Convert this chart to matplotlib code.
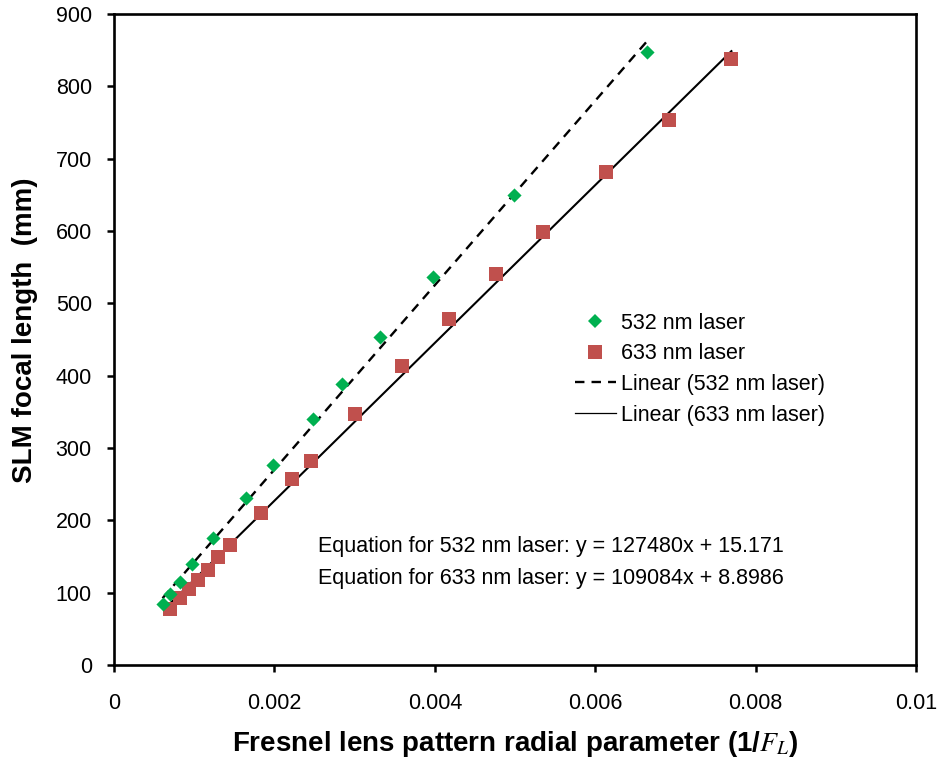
import matplotlib

matplotlib.use("Agg")
import matplotlib.pyplot as plt  # noqa: E402
import numpy as np  # noqa: E402
from matplotlib.lines import Line2D  # noqa: E402

# dados
x_532 = [0.000605, 0.000704, 0.00082, 0.000977, 0.001234, 0.001648, 0.001988,
         0.002484, 0.002841, 0.003313, 0.003981, 0.004981, 0.006642]
y_532 = [84, 98, 115, 139, 175, 231, 276, 340, 389, 454, 536, 650, 847]

x_633 = [0.000696, 0.00082, 0.000936, 0.001048, 0.001172, 0.001296, 0.00144,
         0.00183, 0.002224, 0.002456, 0.003002, 0.00359, 0.004174, 0.004767,
         0.005346, 0.006133, 0.006916, 0.007698]
y_633 = [77, 92, 105, 117, 131, 149, 166, 210, 257, 282, 347, 413, 478, 540,
         598, 682, 754, 838]

# coeficientes das retas de ajuste (texto do grafico)
fit_532 = (127480, 15.171)
fit_633 = (109084, 8.8986)

x_ticks = [0, 0.002, 0.004, 0.006, 0.008, 0.01]
x_tick_labels = ["0", "0.002", "0.004", "0.006", "0.008", "0.01"]
y_ticks = [0, 100, 200, 300, 400, 500, 600, 700, 800, 900]

plt.rcParams["font.family"] = ["Liberation Sans", "DejaVu Sans"]
plt.rcParams["mathtext.fontset"] = "stix"

GREEN = "#00B050"
RED = "#C0504D"
FS = 15.5

fig = plt.figure(figsize=(9.4, 7.64), dpi=100)
ax = fig.add_axes([0.1213, 0.1296, 0.8532, 0.8521])

xs = np.array([min(x_532), max(x_532)])
ax.plot(xs, fit_532[0] * xs + fit_532[1], color="black", linestyle=(0, (4, 3)),
        linewidth=1.7, zorder=2)
xr = np.array([min(x_633), max(x_633)])
ax.plot(xr, fit_633[0] * xr + fit_633[1], color="black", linewidth=1.5, zorder=2)

ax.scatter(x_633, y_633, marker="s", s=100, color=RED, linewidths=0, zorder=3)
ax.scatter(x_532, y_532, marker="D", s=52, color=GREEN, linewidths=0, zorder=4)

ax.set_xlim(0, 0.01)
ax.set_ylim(0, 900)
ax.set_xticks(x_ticks)
ax.set_xticklabels(x_tick_labels)
ax.set_yticks(y_ticks)
ax.tick_params(direction="out", length=5, width=1.8, labelsize=FS)
ax.tick_params(axis="y", pad=11)
ax.tick_params(axis="x", pad=15)
for sp in ax.spines.values():
    sp.set_linewidth(1.9)

ax.set_xlabel(r"Fresnel lens pattern radial parameter (1/$F_L$)", fontsize=20,
              fontweight="bold", labelpad=11)
ax.set_ylabel("SLM focal length  (mm)", fontsize=20, fontweight="bold")
ax.yaxis.set_label_coords(-0.095, 0.514)

handles = [
    Line2D([], [], linestyle="none", marker="D", markersize=7.2, color=GREEN, markeredgewidth=0),
    Line2D([], [], linestyle="none", marker="s", markersize=10, color=RED, markeredgewidth=0),
    Line2D([], [], color="black", linestyle=(0, (4, 3)), linewidth=1.7),
    Line2D([], [], color="black", linewidth=0.9),
]
labels = ["532 nm laser", "633 nm laser", "Linear (532 nm laser)", "Linear (633 nm laser)"]
ax.legend(handles, labels, loc="upper left", bbox_to_anchor=(0.5636, 0.5545),
          borderaxespad=0, frameon=False, fontsize=FS, handlelength=1.9,
          handletextpad=0.25, labelspacing=0.45)

ax.text(0.00254, 164, "Equation for 532 nm laser: y = 127480x + 15.171", fontsize=FS,
        va="center")
ax.text(0.00254, 120, "Equation for 633 nm laser: y = 109084x + 8.8986", fontsize=FS,
        va="center")

fig.savefig("out.png", dpi=100)
plt.close(fig)
